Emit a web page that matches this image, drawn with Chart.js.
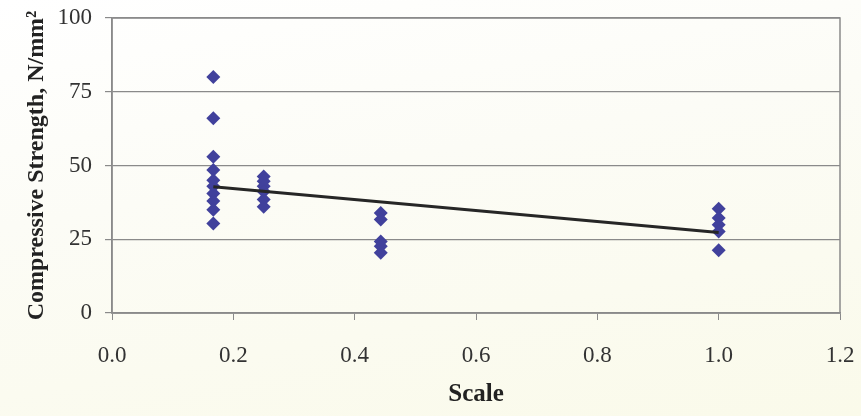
<!DOCTYPE html>
<html>
<head>
<meta charset="utf-8">
<script src="https://cdn.jsdelivr.net/npm/chart.js@4"></script>
<style>
  html, body { margin: 0; padding: 0; }
  body {
    width: 861px; height: 416px; overflow: hidden;
    background: linear-gradient(170deg, #ffffff 0%, #fcfcf6 40%, #fafaea 100%);
  }
  canvas { display: block; }
</style>
</head>
<body>
<canvas id="strengthChart" width="861" height="416"></canvas>
<script>
// scale values for each measured specimen
const scaleX = [
    0.167, 0.167, 0.167, 0.167, 0.167, 0.167, 0.167, 0.167, 0.167, 0.167,
    0.25, 0.25, 0.25, 0.25, 0.25, 0.25,
    0.443, 0.443, 0.443, 0.443, 0.443,
    1.0, 1.0, 1.0, 1.0, 1.0
];

// compressive strength, N/mm2
const strength = [
    80, 66, 53, 48.5, 45, 43, 40.5, 38, 35, 30.3,
    46.3, 44.7, 43, 41.2, 38.5, 36,
    33.9, 31.7, 24.2, 22.6, 20.4,
    35.3, 32.2, 29.9, 27.6, 21.3
];

// fitted trend line end points
const trendX = [0.167, 1.0];
const trendY = [42.8, 27.3];

const yTicks = [0, 25, 50, 75, 100];

const points = scaleX.map((x, i) => ({ x: x, y: strength[i] }));
const trend = trendX.map((x, i) => ({ x: x, y: trendY[i] }));

const frame = {
    id: "frame",
    afterDraw(chart) {
        const a = chart.chartArea;
        const c = chart.ctx;
        c.save();
        c.strokeStyle = "#8a8a8a";
        c.lineWidth = 1.5;
        c.strokeRect(a.left, a.top, a.right - a.left, a.bottom - a.top);
        c.restore();
    }
};

const ctx = document.getElementById("strengthChart");

new Chart(ctx, {
    type: "scatter",
    data: {
        datasets: [
            {
                label: "Trend",
                type: "line",
                data: trend,
                borderColor: "#262626",
                borderWidth: 3,
                pointRadius: 0,
                fill: false,
                order: 0
            },
            {
                label: "Strength",
                data: points,
                pointStyle: "rectRot",
                pointRadius: 7,
                backgroundColor: "#41419c",
                borderColor: "#41419c",
                borderWidth: 0,
                order: 1
            }
        ]
    },
    options: {
        responsive: false,
        animation: false,
        layout: { padding: { left: 0, top: 18, right: 21, bottom: 0 } },
        plugins: {
            legend: { display: false },
            tooltip: { enabled: false }
        },
        scales: {
            x: {
                type: "linear",
                min: 0,
                max: 1.2,
                afterFit(s) {
                    s.height = 103;
                    s.paddingLeft = 0;
                    s.paddingRight = 0;
                },
                ticks: {
                    stepSize: 0.2,
                    padding: 22,
                    color: "#333",
                    font: { family: "Liberation Serif", size: 23 },
                    callback: v => v.toFixed(1)
                },
                grid: {
                    drawOnChartArea: false,
                    drawTicks: true,
                    tickLength: 7,
                    color: "#8a8a8a"
                },
                border: { color: "#8a8a8a", width: 1.5 },
                title: {
                    display: true,
                    text: "Scale",
                    color: "#222",
                    padding: { top: 0, bottom: 6 },
                    font: { family: "Liberation Serif", size: 25, weight: "bold" }
                }
            },
            y: {
                min: 0,
                max: 100,
                afterFit(s) {
                    s.width = 112;
                    s.paddingTop = 0;
                    s.paddingBottom = 0;
                },
                afterBuildTicks(s) { s.ticks = yTicks.map(v => ({ value: v })); },
                ticks: {
                    padding: 13,
                    color: "#333",
                    font: { family: "Liberation Serif", size: 23 }
                },
                grid: {
                    color: "#8a8a8a",
                    lineWidth: 1.2,
                    tickLength: 7
                },
                border: { color: "#8a8a8a", width: 1.5 },
                title: {
                    display: true,
                    text: "Compressive Strength, N/mm²",
                    color: "#222",
                    padding: { top: 22, bottom: 0 },
                    font: { family: "Liberation Serif", size: 24, weight: "bold" }
                }
            }
        }
    },
    plugins: [frame]
});
</script>
</body>
</html>
